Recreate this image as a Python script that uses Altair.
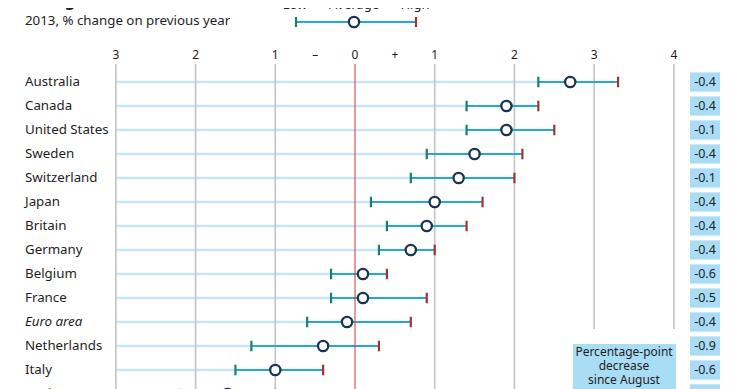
import altair as alt
import pandas as pd

countries = ["Australia", "Canada", "United States", "Sweden", "Switzerland", "Japan",
             "Britain", "Germany", "Belgium", "France", "Euro area", "Netherlands",
             "Italy", "Spain"]
low = [2.3, 1.4, 1.4, 0.9, 0.7, 0.2, 0.4, 0.3, -0.3, -0.3, -0.6, -1.3, -1.5, -2.2]
avg = [2.7, 1.9, 1.9, 1.5, 1.3, 1.0, 0.9, 0.7, 0.1, 0.1, -0.1, -0.4, -1.0, -1.6]
high = [3.3, 2.3, 2.5, 2.1, 2.0, 1.6, 1.4, 1.0, 0.4, 0.9, 0.7, 0.3, -0.4, -1.0]
change = ["-0.4", "-0.4", "-0.1", "-0.4", "-0.1", "-0.4", "-0.4", "-0.4", "-0.6",
          "-0.5", "-0.4", "-0.9", "-0.6", "-0.6"]
grid_values = [-3, -2, -1, 0, 1, 2, 3, 4]
tick_label_values = [-3, -2, -1, -0.5, 0, 0.5, 1, 2, 3, 4]
tick_labels = ["3", "2", "1", "–", "0", "+", "1", "2", "3", "4"]

FONT = "Noto Sans"
W, H = 724, 381
px_per = 558 / 7.0
x0 = 347.0
xs = alt.Scale(domain=[-x0 / px_per, (W - x0) / px_per], nice=False, zero=False)
row0, step = 74.0, 24.0
ys = alt.Scale(domain=[-row0 / step, (H - row0) / step], nice=False, zero=False, reverse=True)

df = pd.DataFrame({
    "country": countries, "low": low, "avg": avg, "high": high, "change": change,
    "i": list(range(len(countries))),
})
df["start"] = -3.0
df["t1"] = df["i"] - 0.22
df["t2"] = df["i"] + 0.22
df["b1"] = df["i"] - 0.4
df["b2"] = df["i"] + 0.4

grid = pd.DataFrame({"v": grid_values})
grid["y1"] = -0.75
grid["y2"] = [16 if v < 3 else 10.29 for v in grid_values]
gray_grid = grid[grid["v"] != 0]
red_grid = grid[grid["v"] == 0]

labels = pd.DataFrame({"v": tick_label_values, "lab": tick_labels})
labels["y"] = -1.125

X = lambda f: alt.X(f, scale=xs, axis=None)
Y = lambda f: alt.Y(f, scale=ys, axis=None)

light = alt.Chart(df).mark_rule(color="#c6e5f5", strokeWidth=2.5).encode(
    x=X("start:Q"), x2="low:Q", y=Y("i:Q"))
gridl = alt.Chart(gray_grid).mark_rule(color="#c4c4c4", strokeWidth=1.6).encode(
    x=X("v:Q"), y=Y("y1:Q"), y2="y2:Q")
rng = alt.Chart(df).mark_rule(color="#22a8de", strokeWidth=2.2).encode(
    x=X("low:Q"), x2="high:Q", y=Y("i:Q"))
redl = alt.Chart(red_grid).mark_rule(color="#d7372c", strokeWidth=1).encode(
    x=X("v:Q"), y=Y("y1:Q"), y2="y2:Q")
lowt = alt.Chart(df).mark_rule(color="#1b7e72", strokeWidth=2.2).encode(
    x=X("low:Q"), y=Y("t1:Q"), y2="t2:Q")
hight = alt.Chart(df).mark_rule(color="#a8322a", strokeWidth=2.2).encode(
    x=X("high:Q"), y=Y("t1:Q"), y2="t2:Q")
dots = alt.Chart(df).mark_point(shape="circle", filled=True, fill="white", stroke="#1a3553",
                                strokeWidth=2.3, size=105, opacity=1).encode(
    x=X("avg:Q"), y=Y("i:Q"))

names = alt.Chart(df).transform_filter(alt.datum.country != "Euro area").mark_text(
    align="left", baseline="middle", font=FONT, fontSize=13.3, color="#1e1e1e").encode(
    x=alt.value(17), y=Y("i:Q"), text="country:N")
names_it = alt.Chart(df).transform_filter(alt.datum.country == "Euro area").mark_text(
    align="left", baseline="middle", font=FONT, fontSize=13.3, fontStyle="italic",
    color="#1e1e1e").encode(x=alt.value(17), y=Y("i:Q"), text="country:N")

boxes = alt.Chart(df).mark_rect(color="#a9dcf5").encode(
    x=alt.value(682), x2=alt.value(712), y=Y("b1:Q"), y2="b2:Q")
boxt = alt.Chart(df).mark_text(align="center", baseline="middle", font=FONT, fontSize=12.5,
                               color="#1e1e1e").encode(
    x=alt.value(697), y=Y("i:Q"), text="change:N")

axl = alt.Chart(labels).mark_text(align="center", baseline="middle", font=FONT, fontSize=12,
                                  color="#1e1e1e").encode(x=X("v:Q"), y=Y("y:Q"), text="lab:N")

one = pd.DataFrame({"k": [0]})
leg_line = alt.Chart(one).mark_rule(color="#22a8de", strokeWidth=2.2).encode(
    x=alt.value(288), x2=alt.value(408), y=alt.value(14))
leg_low = alt.Chart(one).mark_rule(color="#1b7e72", strokeWidth=2.2).encode(
    x=alt.value(288), y=alt.value(9), y2=alt.value(19))
leg_high = alt.Chart(one).mark_rule(color="#a8322a", strokeWidth=2.2).encode(
    x=alt.value(408), y=alt.value(9), y2=alt.value(19))
leg_dot = alt.Chart(one).mark_point(shape="circle", filled=True, fill="white", stroke="#1a3553",
                                    strokeWidth=2.3, size=105, opacity=1).encode(
    x=alt.value(346), y=alt.value(14))
leg_df = pd.DataFrame({"lab": ["Low", "Average", "High"], "px": [287, 346, 407]})
leg_txt = alt.Chart(leg_df).mark_text(align="center", baseline="alphabetic", font=FONT,
                                      fontSize=13, color="#1e1e1e").encode(
    x=alt.X("px:Q", scale=None), y=alt.value(1), text="lab:N")

sub = alt.Chart(one).mark_text(align="left", baseline="middle", font=FONT, fontSize=13.3,
                               color="#1e1e1e", text="2013, % change on previous year").encode(
    x=alt.value(17), y=alt.value(13))
title = alt.Chart(one).mark_text(align="left", baseline="alphabetic", font=FONT, fontSize=17,
                                 fontWeight="bold", color="#1e1e1e",
                                 text="GDP growth forecasts").encode(
    x=alt.value(17), y=alt.value(-2))

ann_box = alt.Chart(one).mark_rect(color="#a9dcf5").encode(
    x=alt.value(565), x2=alt.value(668), y=alt.value(336), y2=alt.value(400))
ann_txt = alt.Chart(one).mark_text(align="center", baseline="middle", font=FONT, fontSize=12,
                                   lineHeight=13.8, color="#1e1e1e",
                                   text=["Percentage-point", "decrease", "since August"]).encode(
    x=alt.value(616), y=alt.value(344))

chart = alt.layer(
    light, gridl, rng, redl, lowt, hight, dots, names, names_it, boxes, boxt, axl,
    leg_line, leg_low, leg_high, leg_dot, leg_txt, sub, title, ann_box, ann_txt
).properties(
    width=W, height=H, padding=0, autosize=alt.AutoSizeParams(type="none")
).configure_view(stroke=None)

chart.save("out.html", embed_options={"renderer": "svg", "actions": False})
